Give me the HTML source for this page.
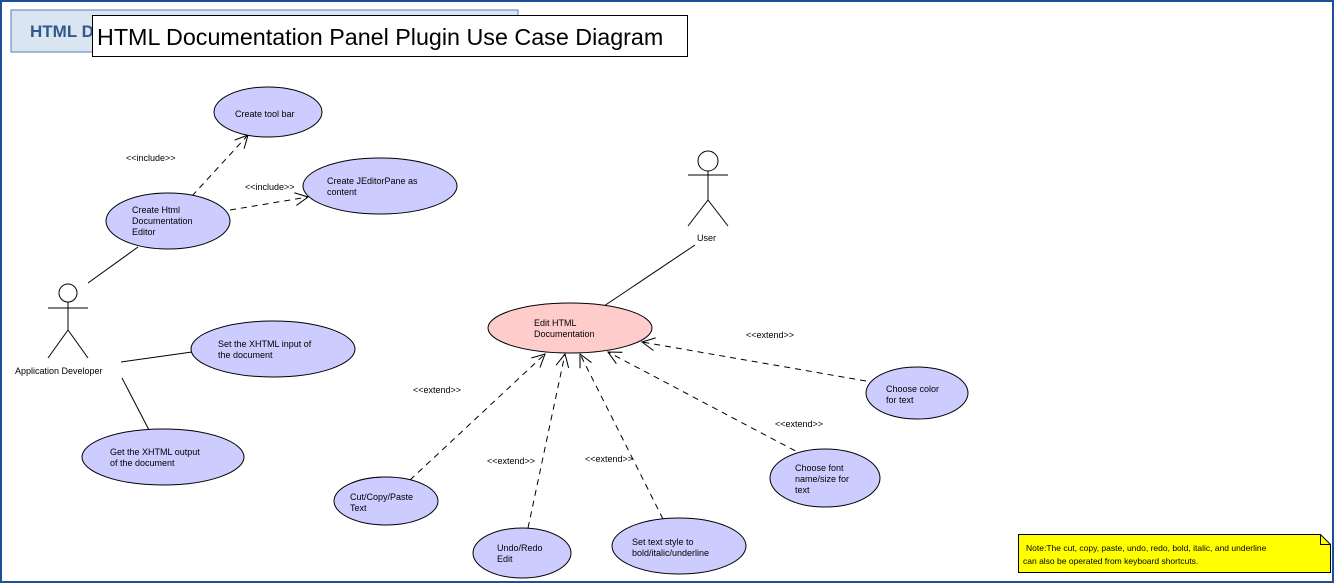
<!DOCTYPE html>
<html><head><meta charset="utf-8"><style>
html,body{margin:0;padding:0;background:#fff}
svg{display:block;font-family:"Liberation Sans",sans-serif}
</style></head><body>
<svg width="1334" height="583" viewBox="0 0 1334 583" xmlns="http://www.w3.org/2000/svg">
<defs>
<marker id="oa" viewBox="0 0 20 20" refX="18" refY="10" markerWidth="16" markerHeight="16" orient="auto" markerUnits="userSpaceOnUse">
<path d="M2,2 L18,10 L2,18" fill="none" stroke="#000" stroke-width="1.3"/>
</marker>
</defs>
<rect x="1" y="1" width="1332" height="581" fill="#fff" stroke="#1f4e9c" stroke-width="2"/>
<rect x="11" y="10" width="507" height="42" fill="#dbe5f1" stroke="#4f81bd" stroke-width="1"/>
<text x="30" y="37" font-size="17" font-weight="bold" fill="#2f5a8f">HTML D</text>
<rect x="92.5" y="15.5" width="595" height="41" fill="#fff" stroke="#000"/>
<text x="97" y="45" font-size="23.3">HTML Documentation Panel Plugin Use Case Diagram</text>

<g stroke="#000" stroke-width="1" fill="none">
<line x1="695" y1="245" x2="604" y2="306"/>
<line x1="88" y1="283" x2="138" y2="247"/>
<line x1="121" y1="362" x2="192" y2="352"/>
<line x1="122" y1="378" x2="149" y2="430"/>
<g stroke-dasharray="6,5" marker-end="url(#oa)">
<line x1="192" y1="196" x2="248" y2="135"/>
<line x1="230" y1="210" x2="308" y2="197"/>
<line x1="410" y1="480" x2="545" y2="354"/>
<line x1="528" y1="528" x2="565" y2="354"/>
<line x1="663" y1="519" x2="580" y2="354"/>
<line x1="805" y1="456" x2="608" y2="352"/>
<line x1="866" y1="381" x2="642" y2="342"/>
</g>
<circle cx="708" cy="161" r="10"/>
<line x1="708" y1="171" x2="708" y2="200"/>
<line x1="688" y1="175" x2="728" y2="175"/>
<line x1="708" y1="200" x2="688" y2="226"/>
<line x1="708" y1="200" x2="728" y2="226"/>
<circle cx="68" cy="293" r="9"/>
<line x1="68" y1="302" x2="68" y2="330"/>
<line x1="48" y1="308" x2="88" y2="308"/>
<line x1="68" y1="330" x2="48" y2="358"/>
<line x1="68" y1="330" x2="88" y2="358"/>
</g>

<g stroke="#000" stroke-width="1" fill="#ccccff">
<ellipse cx="268" cy="112" rx="54" ry="25"/>
<ellipse cx="380" cy="186" rx="77" ry="28"/>
<ellipse cx="168" cy="221" rx="62" ry="28"/>
<ellipse cx="273" cy="349" rx="82" ry="28"/>
<ellipse cx="163" cy="457" rx="81" ry="28"/>
<ellipse cx="570" cy="328" rx="82" ry="25" fill="#ffcccc"/>
<ellipse cx="917" cy="393" rx="51" ry="26"/>
<ellipse cx="825" cy="478" rx="55" ry="29"/>
<ellipse cx="386" cy="501" rx="52" ry="24"/>
<ellipse cx="522" cy="553" rx="49" ry="25"/>
<ellipse cx="679" cy="546" rx="67" ry="28"/>
</g>

<g font-size="9" fill="#000">
<text x="235" y="117">Create tool bar</text>
<text x="327" y="184">Create JEditorPane as</text><text x="327" y="195">content</text>
<text x="132" y="213">Create Html</text><text x="132" y="224">Documentation</text><text x="132" y="235">Editor</text>
<text x="218" y="347">Set the XHTML input of</text><text x="218" y="358">the document</text>
<text x="110" y="455">Get the XHTML output</text><text x="110" y="466">of the document</text>
<text x="534" y="326">Edit HTML</text><text x="534" y="337">Documentation</text>
<text x="886" y="392">Choose color</text><text x="886" y="403">for text</text>
<text x="795" y="471">Choose font</text><text x="795" y="482">name/size for</text><text x="795" y="493">text</text>
<text x="350" y="500">Cut/Copy/Paste</text><text x="350" y="511">Text</text>
<text x="497" y="551">Undo/Redo</text><text x="497" y="562">Edit</text>
<text x="632" y="545">Set text style to</text><text x="632" y="556">bold/italic/underline</text>
<text x="697" y="241">User</text>
<text x="15" y="374">Application Developer</text>
<text x="126" y="161">&lt;&lt;include&gt;&gt;</text>
<text x="245" y="190">&lt;&lt;include&gt;&gt;</text>
<text x="413" y="393">&lt;&lt;extend&gt;&gt;</text>
<text x="487" y="464">&lt;&lt;extend&gt;&gt;</text>
<text x="585" y="462">&lt;&lt;extend&gt;&gt;</text>
<text x="775" y="427">&lt;&lt;extend&gt;&gt;</text>
<text x="746" y="338">&lt;&lt;extend&gt;&gt;</text>
</g>

<path d="M1018.5,534.5 L1320.5,534.5 L1330.5,544.5 L1330.5,572.5 L1018.5,572.5 Z" fill="#ffff00" stroke="#000"/>
<path d="M1320.5,534.5 L1320.5,544.5 L1330.5,544.5" fill="none" stroke="#000"/>
<g font-size="8.5"><text x="1026" y="551">Note:The cut, copy, paste, undo, redo, bold, italic, and underline</text>
<text x="1023" y="564">can also be operated from keyboard shortcuts.</text></g>
</svg>
</body></html>
